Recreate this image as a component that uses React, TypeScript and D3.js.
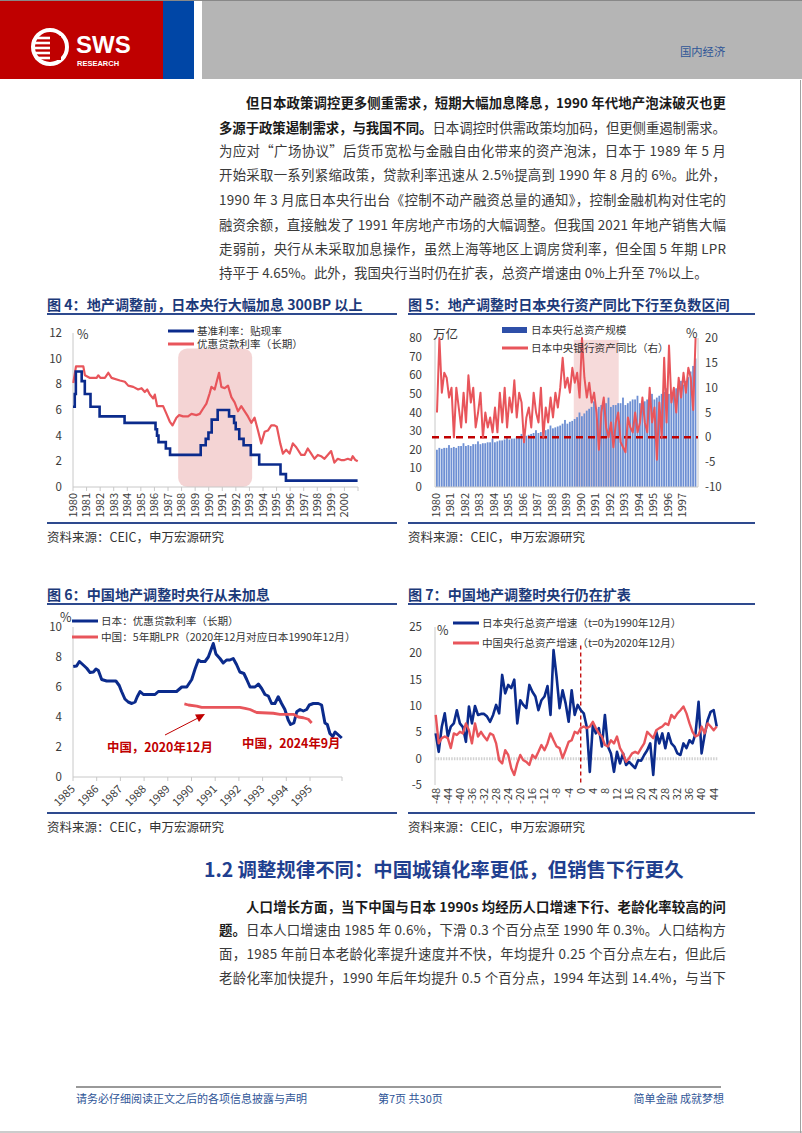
import React from "react";
import * as d3 from "d3";

const FONT = "'Noto Sans CJK SC', 'Noto Sans', sans-serif";
const NAVY = "#0b2b8c";
const RED = "#e8555b";
const DARKRED = "#c00000";
const TITLE = "#1c3a7a";
const RULE = "#2e4a8e";
const AXIS = "#c8c8c8";
const TICK = "#3a3a3a";

// ---------- 图4 ----------
const odrYears = [1980.0, 1980.13, 1980.21, 1980.64, 1980.87, 1981.29, 1981.96, 1983.8, 1986.08, 1986.19, 1986.3, 1986.84, 1987.15, 1989.41, 1989.78, 1989.98, 1990.22, 1990.66, 1991.5, 1991.87, 1991.99, 1992.25, 1992.57, 1993.1, 1993.72, 1995.29, 1995.69, 2000.97];
const odrValues = [6.25, 7.25, 9.0, 8.25, 7.25, 6.25, 5.5, 5.0, 4.5, 4.0, 3.5, 3.0, 2.5, 3.25, 3.75, 4.25, 5.25, 6.0, 5.5, 5.0, 4.5, 3.75, 3.25, 2.5, 1.75, 1.0, 0.5, 0.5];
const ltprYears4 = [1980.02, 1980.22, 1980.76, 1980.88, 1981.25, 1981.74, 1981.86, 1982.03, 1982.35, 1982.6, 1982.84, 1983.46, 1983.82, 1984.07, 1984.44, 1984.8, 1985.05, 1985.29, 1985.47, 1985.66, 1985.91, 1986.03, 1986.2, 1986.64, 1986.89, 1987.13, 1987.33, 1987.62, 1987.82, 1988.11, 1988.48, 1988.73, 1989.09, 1989.34, 1989.58, 1989.83, 1990.07, 1990.2, 1990.44, 1990.61, 1990.76, 1990.93, 1991.18, 1991.42, 1991.67, 1991.91, 1992.16, 1992.4, 1992.65, 1992.89, 1993.14, 1993.38, 1993.63, 1993.87, 1994.12, 1994.36, 1994.61, 1994.85, 1995.02, 1995.27, 1995.47, 1995.71, 1995.96, 1996.2, 1996.45, 1996.81, 1997.06, 1997.3, 1997.55, 1997.79, 1998.04, 1998.28, 1998.53, 1998.77, 1999.02, 1999.26, 1999.51, 1999.75, 2000.0, 2000.25, 2000.49, 2000.61, 2000.81, 2000.98];
const ltprValues4 = [8.1, 9.4, 9.4, 8.7, 8.5, 8.5, 8.7, 8.5, 8.5, 8.9, 8.5, 8.3, 8.2, 7.9, 7.8, 7.6, 7.7, 7.4, 7.6, 7.2, 6.9, 7.2, 6.3, 6.3, 5.7, 5.1, 4.8, 5.4, 5.6, 5.5, 5.5, 5.7, 5.6, 5.7, 6.1, 6.5, 7.3, 7.8, 7.6, 8.3, 8.9, 7.8, 7.7, 7.9, 7.0, 6.6, 5.9, 6.3, 5.9, 5.5, 5.0, 5.4, 4.4, 3.4, 4.3, 4.4, 4.8, 4.8, 4.7, 3.4, 2.6, 2.9, 2.6, 3.4, 3.1, 2.5, 2.5, 3.0, 2.6, 2.2, 2.5, 2.4, 2.2, 2.5, 2.8, 1.9, 2.2, 2.1, 2.1, 2.2, 2.1, 2.4, 2.1, 2.0];
const shade4 = [1987.75, 1993.2];
const years4 = d3.range(1980, 2001);

// ---------- 图5 (双月) ----------
const bojAssets = [
  20, 21, 20.5, 21, 21, 22.5, 21, 21.5, 21, 22, 22, 23.5, 22, 22.5, 22, 23, 23, 24.5,
  23, 23.5, 23.5, 24, 24, 26, 24, 24.5, 25, 25, 25.5, 26.5, 25.5, 26, 26, 27, 27, 28.5,
  27, 27.5, 28, 28.5, 29, 30.5, 29, 29.5, 30, 30.5, 31, 33, 31.5, 32, 32.5, 33, 34, 36,
  34, 35, 35.5, 36.5, 37.5, 40, 38, 39.5, 41, 42, 43, 46, 42, 43, 44, 45, 45, 48,
  43, 44, 44, 45, 45, 48, 44, 45, 46, 47, 47, 49, 45, 46, 46, 47, 47.5, 50,
  47, 48, 49, 50, 51, 53, 50, 51, 52, 53, 54, 57, 55, 57, 59, 62, 65, 69,
];
const bojYoy = [
  5, 20, 9, 13, 12, 8, 10, 0, 10, 6, 2, 9, 3, 12.5, 7, 10, 2, 5,
  9, 0, 5, 2, 4, 1, 6, 1, 9, 3, 10, 2, 8, 5, 11.5, 4, 9, 7,
  -1, 4, 6, 2, 9, 5, 3, 10, 0, 6, 3, 8, 4, 9, 6, 10, 16, 10,
  12, 9, 14, 11, 13, 8, 20, 12, 8, 11, 7, 9, 5, -2.5, 5, 8, 2, 0,
  3, -2, 3, 5, -1, -2, -3, 4, 2, 1, 5, 1, 3, 8, 3, 1, 10, 3,
  6, -4.5, 7, 0, 16, 3, 18.5, 7, 10, 5, 12, 8, 13, 9, 14, 12, 5.5, 20,
];
const shade5 = [1989.5, 1992.6];
const years5 = d3.range(1980, 1998);

// ---------- 图6 ----------
const jpPrimeYears6 = [1985.01, 1985.15, 1985.27, 1985.41, 1985.58, 1985.72, 1985.86, 1985.97, 1986.07, 1986.21, 1986.42, 1986.63, 1986.81, 1986.95, 1987.05, 1987.19, 1987.33, 1987.48, 1987.62, 1987.71, 1987.83, 1987.97, 1988.25, 1988.46, 1988.6, 1988.81, 1989.09, 1989.37, 1989.59, 1989.8, 1990.01, 1990.15, 1990.29, 1990.39, 1990.57, 1990.71, 1990.85, 1990.92, 1991.03, 1991.2, 1991.34, 1991.48, 1991.62, 1991.76, 1991.9, 1992.04, 1992.21, 1992.33, 1992.47, 1992.68, 1992.82, 1992.96, 1993.1, 1993.24, 1993.38, 1993.52, 1993.66, 1993.8, 1993.94, 1994.08, 1994.18, 1994.32, 1994.44, 1994.58, 1994.72, 1994.86, 1994.97, 1995.14, 1995.35, 1995.49, 1995.63, 1995.73, 1995.84, 1995.96, 1996.06, 1996.2, 1996.34];
const jpPrimeValues6 = [7.36, 7.4, 7.7, 7.5, 7.25, 6.96, 7.0, 7.2, 7.1, 6.5, 6.4, 6.4, 6.4, 6.1, 5.7, 5.2, 5.0, 4.9, 5.0, 5.35, 5.7, 5.5, 5.5, 5.5, 5.7, 5.7, 5.7, 5.7, 6.0, 6.0, 6.5, 7.2, 7.8, 7.7, 7.7, 8.0, 8.6, 8.9, 8.2, 7.9, 7.6, 7.8, 7.8, 7.9, 7.5, 7.0, 6.9, 6.5, 6.0, 6.0, 6.2, 5.9, 5.5, 5.4, 4.9, 4.9, 5.35, 4.9, 4.5, 3.8, 3.5, 3.6, 4.35, 4.5, 4.4, 4.5, 4.8, 4.9, 4.9, 4.8, 3.6, 3.5, 2.9, 2.7, 3.0, 2.8, 2.6];
const cnLprYears6 = [1989.7, 1989.87, 1990.22, 1990.43, 1992.04, 1992.26, 1992.47, 1992.75, 1993.45, 1993.73, 1994.3, 1994.51, 1994.72, 1994.93, 1995.07];
const cnLprValues6 = [4.87, 4.8, 4.73, 4.64, 4.64, 4.58, 4.5, 4.3, 4.25, 4.18, 4.18, 4.0, 3.95, 3.85, 3.6];
const years6 = d3.range(1985, 1996);

// ---------- 图7 ----------
const months7 = d3.range(-48, 46);
const jpGrowth7 = [
  4.8, 1.3, 6.0, 8.6, 4.2, 6.1, 6.7, 9.2, 6.7, 6.0,
  3.2, 9.9, 6.7, 10.0, 8.3, 8.5, 8.5, 8.0, 7.0, 8.3,
  10.2, 8.6, 15.9, 12.4, 14.0, 13.4, 15.0, 6.7, 11.1, 10.2,
  9.6, 14.0, 12.7, 11.8, 9.2, 11.1, 11.8, 13.8, 8.3, 20.6,
  15.6, 9.6, 13.0, 10.5, 7.0, 13.0, 8.3, 10.2, 9.2, 8.6,
  6.0, -2.5, 6.4, 4.8, 5.8, 2.3, 8.3, 2.3, 1.0, -2.5,
  1.3, -0.9, 1.0, -1.2, -0.6, -1.2, -1.8, -0.3, -0.4, 0.7,
  1.6, 2.9, -3.1, 5.1, 2.9, 4.8, 2.0, 4.8, 2.9, 2.3,
  1.0, 0.7, 2.9, 2.0, 3.5, 2.9, 4.8, 10.8, 1.0, 4.5,
  7.3, 8.9, 9.2, 6.1,
];
const cnGrowth7 = [
  8.3, 2.9, 3.9, 4.2, 3.9, 2.0, 4.8, 4.5, 5.1, 4.8,
  6.7, 5.4, 2.9, 6.7, 4.2, 5.1, 4.2, 3.5, 4.8, 4.5,
  2.9, -0.3, -0.9, 1.6, 0.7, -1.8, -3.1, -0.9, 0.7, -0.3,
  -0.6, -1.2, 0.7, 0.1, 1.3, 2.6, 1.6, 2.9, 4.8, 3.5,
  2.3, 2.0, 0.1, 1.6, 3.2, 3.5, 5.1, 4.8, 5.8, 6.1,
  5.8, 6.1, 7.0, 5.8, 4.8, 4.2, 2.6, 2.3, 3.5, 2.9,
  4.2, 2.0, 1.0, -0.6, 0.1, 1.0, 1.3, 1.0, 2.0, 2.9,
  5.1, 4.5, 3.9, 5.4, 5.8, 6.1, 6.7, 6.4, 8.3, 7.7,
  8.6, 9.2, 9.9, 8.6, 6.7, 5.1, 4.2, 4.5, 6.1, 4.8,
  6.7, 6.1, 5.4, 6.1,
];
const ticks7 = d3.range(-48, 45, 4);

// ---------- 正文 ----------
type Seg = [string, boolean];
const para1: Seg[][] = [
  [["但日本政策调控更多侧重需求，短期大幅加息降息，1990 年代地产泡沫破灭也更", true]],
  [["多源于政策遏制需求，与我国不同。", true], ["日本调控时供需政策均加码，但更侧重遏制需求。", false]],
  [["为应对“广场协议”后货币宽松与金融自由化带来的资产泡沫，日本于 1989 年 5 月", false]],
  [["开始采取一系列紧缩政策，贷款利率迅速从 2.5%提高到 1990 年 8 月的 6%。此外，", false]],
  [["1990 年 3 月底日本央行出台《控制不动产融资总量的通知》，控制金融机构对住宅的", false]],
  [["融资余额，直接触发了 1991 年房地产市场的大幅调整。但我国 2021 年地产销售大幅", false]],
  [["走弱前，央行从未采取加息操作，虽然上海等地区上调房贷利率，但全国 5 年期 LPR", false]],
  [["持平于 4.65%。此外，我国央行当时仍在扩表，总资产增速由 0%上升至 7%以上。", false]],
];
const para1Y = [103, 128, 151, 175, 200, 225, 249, 273];
const para2: Seg[][] = [
  [["人口增长方面，当下中国与日本 1990s 均经历人口增速下行、老龄化率较高的问", true]],
  [["题。", true], ["日本人口增速由 1985 年 0.6%，下滑 0.3 个百分点至 1990 年 0.3%。人口结构方", false]],
  [["面，1985 年前日本老龄化率提升速度并不快，年均提升 0.25 个百分点左右，但此后", false]],
  [["老龄化率加快提升，1990 年后年均提升 0.5 个百分点，1994 年达到 14.4%，与当下", false]],
];
const para2Y = [907, 930, 954, 978];

function Paragraph({ lines, ys }: { lines: Seg[][]; ys: number[] }) {
  return (
    <g fontFamily={FONT} fontSize={13.4} fill="#3a3a3a">
      {lines.map((segs, i) => {
        const first = i === 0;
        const last = i === lines.length - 1 && lines.length > 4;
        const x = first ? 246 : 219;
        return (
          <text
            key={i}
            x={x}
            y={ys[i] + 4.8}
            textLength={last ? undefined : 726 - x}
            lengthAdjust={last ? undefined : "spacing"}
          >
            {segs.map(([t, b], j) => (
              <tspan key={j} fontWeight={b ? 700 : 400} fill={b ? "#1a1a1a" : "#3a3a3a"}>
                {t}
              </tspan>
            ))}
          </text>
        );
      })}
    </g>
  );
}

function Frame({ x0, x1, yTitle, ySource, title }: { x0: number; x1: number; yTitle: number; ySource: number; title: string }) {
  return (
    <g fontFamily={FONT}>
      <text x={x0} y={yTitle + 5} fontSize={14.1} fontWeight={700} fill={TITLE}>
        {title}
      </text>
      <line x1={x0} x2={x1} y1={yTitle + 9} y2={yTitle + 9} stroke={RULE} strokeWidth={2} />
      <line x1={x0} x2={x1} y1={ySource} y2={ySource} stroke={RULE} strokeWidth={2} />
      <text x={x0} y={ySource + 19} fontSize={12.5} fill="#333">
        资料来源：CEIC，申万宏源研究
      </text>
    </g>
  );
}

function LegendItem({ x, y, color, label, bar }: { x: number; y: number; color: string; label: string; bar?: boolean }) {
  return (
    <g>
      {bar ? (
        <rect x={x} y={y - 3} width={25} height={6} fill={color} />
      ) : (
        <line x1={x} x2={x + 26} y1={y} y2={y} stroke={color} strokeWidth={3} />
      )}
      <text x={x + 29} y={y + 3.8} fontSize={10.6} fill="#333">
        {label}
      </text>
    </g>
  );
}

function Fig4() {
  const x = d3.scaleLinear().domain([1980, 2001]).range([73, 358]);
  const y = d3.scaleLinear().domain([0, 12]).range([487, 333]);
  const odrLine = d3.line<number>().x((_, i) => x(odrYears[i])).y((d) => y(d)).curve(d3.curveStepAfter);
  const ltLine = d3.line<number>().x((_, i) => x(ltprYears4[i])).y((d) => y(d));
  return (
    <g fontFamily={FONT}>
      <Frame x0={47} x1={397} yTitle={305} ySource={523} title="图 4：地产调整前，日本央行大幅加息 300BP 以上" />
      <rect x={x(shade4[0])} y={y(10.8)} width={x(shade4[1]) - x(shade4[0])} height={y(0) - y(10.8)} rx={9} fill="#f1c9c9" opacity={0.8} />
      <line x1={x(1980)} x2={x(1980)} y1={y(12)} y2={y(0)} stroke={AXIS} />
      <line x1={x(1980)} x2={x(2001)} y1={y(0)} y2={y(0)} stroke={AXIS} />
      {y.ticks(6).map((t) => (
        <text key={t} x={62} y={y(t) + 4} fontSize={11.5} textAnchor="end" fill={TICK}>
          {t}
        </text>
      ))}
      <text x={77} y={339} fontSize={12.5} fill={TICK}>%</text>
      {years4.map((yr) => (
        <g key={yr}>
          <line x1={x(yr)} x2={x(yr)} y1={y(0)} y2={y(0) + 4} stroke={AXIS} />
          <text transform={`translate(${x(yr)},${y(0) + 6}) rotate(-90)`} dy="0.35em" textAnchor="end" fontSize={11} fill={TICK}>
            {yr}
          </text>
        </g>
      ))}
      <line x1={x(2001)} x2={x(2001)} y1={y(0)} y2={y(0) + 4} stroke={AXIS} />
      <path d={ltLine(ltprValues4) || ""} fill="none" stroke={RED} strokeWidth={2.2} strokeLinejoin="round" />
      <path d={odrLine(odrValues) || ""} fill="none" stroke={NAVY} strokeWidth={2.6} />
      <LegendItem x={168} y={331} color={NAVY} label="基准利率：贴现率" />
      <LegendItem x={168} y={344} color={RED} label="优惠贷款利率（长期）" />
    </g>
  );
}

function Fig5() {
  const x = d3.scaleLinear().domain([1980, 1998]).range([436, 697]);
  const yL = d3.scaleLinear().domain([0, 80]).range([487, 338]);
  const yR = d3.scaleLinear().domain([-10, 20]).range([487, 338]);
  const t = bojAssets.map((_, i) => 1980 + i / 6);
  const yoyLine = d3.line<number>().x((_, i) => x(t[i]) + 1).y((d) => yR(d));
  return (
    <g fontFamily={FONT}>
      <Frame x0={408} x1={755} yTitle={305} ySource={523} title="图 5：地产调整时日本央行资产同比下行至负数区间" />
      <rect x={x(shade5[0])} y={yL(79)} width={x(shade5[1]) - x(shade5[0])} height={yL(0) - yL(79)} fill="#f6dada" />
      {bojAssets.map((v, i) => (
        <rect key={i} x={x(t[i])} y={yL(v)} width={1.8} height={yL(0) - yL(v)} fill="#6d8fd3" />
      ))}
      <line x1={435} x2={435} y1={yL(80)} y2={yL(0)} stroke={AXIS} />
      <line x1={698} x2={698} y1={yL(80)} y2={yL(0)} stroke={AXIS} />
      <line x1={435} x2={698} y1={yL(0)} y2={yL(0)} stroke={AXIS} />
      {yL.ticks(8).map((v) => (
        <text key={v} x={422} y={yL(v) + 4} fontSize={11.5} textAnchor="end" fill={TICK}>
          {v}
        </text>
      ))}
      {yR.ticks(6).map((v) => (
        <text key={v} x={705} y={yR(v) + 4} fontSize={11.5} fill={TICK}>
          {v}
        </text>
      ))}
      <text x={433} y={339} fontSize={12.5} fill={TICK}>万亿</text>
      <text x={686} y={338} fontSize={12.5} fill={TICK}>%</text>
      {years5.map((yr) => (
        <text key={yr} transform={`translate(${x(yr)},${yL(0) + 6}) rotate(-90)`} dy="0.35em" textAnchor="end" fontSize={11} fill={TICK}>
          {yr}
        </text>
      ))}
      <line x1={432} x2={698} y1={yR(0)} y2={yR(0)} stroke={DARKRED} strokeWidth={2.5} strokeDasharray="7 5" />
      <path d={yoyLine(bojYoy) || ""} fill="none" stroke={RED} strokeWidth={2} strokeLinejoin="round" />
      <LegendItem x={502} y={330} color="#2e4fa8" label="日本央行总资产规模" bar />
      <LegendItem x={502} y={348} color={RED} label="日本中央银行资产同比（右）" />
    </g>
  );
}

function Fig6() {
  const x = d3.scaleLinear().domain([1985, 1996.35]).range([73, 342]);
  const y = d3.scaleLinear().domain([0, 10]).range([777, 627]);
  const jp = d3.line<number>().x((_, i) => x(jpPrimeYears6[i])).y((d) => y(d));
  const cn = d3.line<number>().x((_, i) => x(cnLprYears6[i])).y((d) => y(d));
  return (
    <g fontFamily={FONT}>
      <Frame x0={47} x1={397} yTitle={595} ySource={813} title="图 6：中国地产调整时央行从未加息" />
      <line x1={73} x2={73} y1={y(10)} y2={y(0)} stroke={AXIS} />
      <line x1={73} x2={342} y1={y(0)} y2={y(0)} stroke={AXIS} />
      {y.ticks(5).map((v) => (
        <text key={v} x={62} y={y(v) + 4} fontSize={11.5} textAnchor="end" fill={TICK}>
          {v}
        </text>
      ))}
      <text x={60} y={622} fontSize={12.5} fill={TICK}>%</text>
      {years6.map((yr) => (
        <g key={yr}>
          <line x1={x(yr)} x2={x(yr)} y1={y(0)} y2={y(0) + 4} stroke={AXIS} />
          <text transform={`translate(${x(yr)},${y(0) + 10}) rotate(-45)`} textAnchor="end" dy="0.35em" fontSize={11} fill={TICK}>
            {yr}
          </text>
        </g>
      ))}
      <line x1={342} x2={342} y1={y(0)} y2={y(0) + 4} stroke={AXIS} />
      <path d={jp(jpPrimeValues6) || ""} fill="none" stroke={NAVY} strokeWidth={3} strokeLinejoin="round" />
      <path d={cn(cnLprValues6) || ""} fill="none" stroke={RED} strokeWidth={2.8} strokeLinejoin="round" />
      <LegendItem x={72} y={621} color={NAVY} label="日本：优惠贷款利率（长期）" />
      <LegendItem x={72} y={637} color={RED} label="中国：5年期LPR（2020年12月对应日本1990年12月）" />
      <line x1={165} y1={735} x2={198} y2={718} stroke={DARKRED} strokeWidth={1} />
      <path d="M205,714 L195,714.5 L199,722 Z" fill={DARKRED} />
      <text x={107} y={752} fontSize={12.4} fontWeight={700} fill={DARKRED}>中国，2020年12月</text>
      <text x={242} y={748} fontSize={12.4} fontWeight={700} fill={DARKRED}>中国，2024年9月</text>
    </g>
  );
}

function Fig7() {
  const x = d3.scaleLinear().domain([-48, 45]).range([435.7, 716.7]);
  const y = d3.scaleLinear().domain([-5, 25]).range([785, 627]);
  const line = d3.line<number>().x((_, i) => x(months7[i])).y((d) => y(d));
  return (
    <g fontFamily={FONT}>
      <Frame x0={408} x1={755} yTitle={595} ySource={813} title="图 7：中国地产调整时央行仍在扩表" />
      <line x1={435} x2={435} y1={y(25)} y2={y(-5)} stroke={AXIS} />
      <line x1={435} x2={718} y1={y(0)} y2={y(0)} stroke="#d2d2d2" strokeWidth={3} strokeDasharray="1.5 1.2" />
      {y.ticks(6).map((v) => (
        <text key={v} x={422} y={y(v) + 4} fontSize={11.5} textAnchor="end" fill={TICK}>
          {v}
        </text>
      ))}
      <text x={437} y={635} fontSize={12.5} fill={TICK}>%</text>
      {ticks7.map((m) => (
        <text key={m} transform={`translate(${x(m)},${y(-5) + 3}) rotate(-90)`} dy="0.35em" textAnchor="end" fontSize={11} fill={TICK}>
          {m}
        </text>
      ))}
      <line x1={x(0)} x2={x(0)} y1={y(21.5)} y2={y(-5)} stroke={DARKRED} strokeWidth={1.3} strokeDasharray="4 3" />
      <path d={line(jpGrowth7) || ""} fill="none" stroke={NAVY} strokeWidth={2.6} strokeLinejoin="round" />
      <path d={line(cnGrowth7) || ""} fill="none" stroke={RED} strokeWidth={2.4} strokeLinejoin="round" />
      <LegendItem x={453} y={623} color={NAVY} label="日本央行总资产增速（t=0为1990年12月）" />
      <LegendItem x={453} y={643} color={RED} label="中国央行总资产增速（t=0为2020年12月）" />
    </g>
  );
}

function Header() {
  return (
    <g fontFamily={FONT}>
      <line x1={0} x2={802} y1={0.5} y2={0.5} stroke="#888" />
      <rect x={0} y={1} width={163} height={78} fill="#bf0000" />
      <rect x={163} y={1} width={31} height={78} fill="#0046a6" />
      <rect x={202} y={1} width={600} height={78} fill="#b5b5b5" />
      <circle cx={50} cy={47} r={17} fill="none" stroke="#fff" strokeWidth={4} />
      {[38, 43, 48, 53, 58].map((yy) => (
        <rect key={yy} x={35} y={yy - 1.3} width={15} height={2.6} fill="#fff" />
      ))}
      <rect x={53} y={36} width={8} height={24} fill="#bf0000" />
      <text x={76} y={53} fontSize={24} fontWeight={700} fill="#fff" fontFamily="'Liberation Sans', Arial, sans-serif">
        SWS
      </text>
      <text x={77} y={66} fontSize={7.5} fontWeight={700} fill="#fff" fontFamily="'Liberation Sans', Arial, sans-serif">
        RESEARCH
      </text>
      <text x={680} y={56} fontSize={11.3} fill="#2f5597">国内经济</text>
    </g>
  );
}

function Footer() {
  return (
    <g fontFamily={FONT} fontSize={11} fill="#2f5597">
      <line x1={76} x2={721} y1={1087} y2={1087} stroke="#999" strokeWidth={2} />
      <text x={76} y={1103}>请务必仔细阅读正文之后的各项信息披露与声明</text>
      <text x={378} y={1103}>第7页 共30页</text>
      <text x={724} y={1103} textAnchor="end">简单金融 成就梦想</text>
      <line x1={0} x2={802} y1={1132} y2={1132} stroke="#999" />
    </g>
  );
}

export default function App() {
  return (
    <div style={{ position: "absolute", left: 0, top: 0 }}>
      <svg width={802} height={1133} style={{ display: "block" }}>
        <rect width={802} height={1133} fill="#fff" />
        <Header />
        <Paragraph lines={para1} ys={para1Y} />
        <Fig4 />
        <Fig5 />
        <Fig6 />
        <Fig7 />
        <text x={204} y={877} fontFamily={FONT} fontSize={19.4} fontWeight={700} fill="#1f3f8f">
          1.2  调整规律不同：中国城镇化率更低，但销售下行更久
        </text>
        <Paragraph lines={para2} ys={para2Y} />
        <line x1={800.5} x2={800.5} y1={80} y2={1133} stroke="#a0a0a0" />
        <Footer />
      </svg>
    </div>
  );
}
